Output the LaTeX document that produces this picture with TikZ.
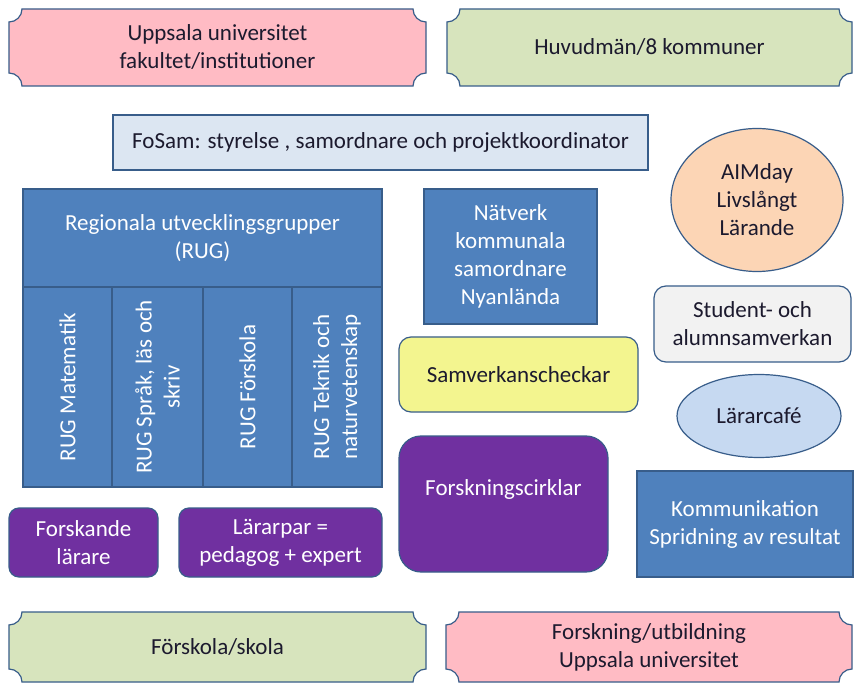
\documentclass[tikz,border=0pt]{standalone}
\usepackage{fontspec}
\setmainfont{Carlito}
\usetikzlibrary{shapes.geometric}
\definecolor{bordc}{HTML}{385D8A}
\definecolor{pinkf}{RGB}{255,187,196}
\definecolor{greenf}{HTML}{D7E4BD}
\definecolor{fosamf}{HTML}{DCE6F2}
\definecolor{bluef}{HTML}{4F81BD}
\definecolor{peachf}{HTML}{FCD5B5}
\definecolor{greyf}{HTML}{F2F2F2}
\definecolor{yellowf}{RGB}{243,245,143}
\definecolor{purplef}{HTML}{7030A0}
\definecolor{lightbluef}{HTML}{C6D9F1}
\definecolor{txtdark}{HTML}{1C1A2E}
% plaque: #1 fill, #2 x0, #3 y0, #4 x1, #5 y1
\newcommand{\myplaque}[5]{%
  \filldraw[fill=#1, draw=bordc, line width=1.2pt]
    ({#2+13},#3) -- ({#4-13},#3)
    .. controls ({#4-13},{#3+7.2}) and ({#4-7.2},{#3+13}) .. (#4,{#3+13})
    -- (#4,{#5-13})
    .. controls ({#4-7.2},{#5-13}) and ({#4-13},{#5-7.2}) .. ({#4-13},#5)
    -- ({#2+13},#5)
    .. controls ({#2+13},{#5-7.2}) and ({#2+7.2},{#5-13}) .. (#2,{#5-13})
    -- (#2,{#3+13})
    .. controls ({#2+7.2},{#3+13}) and ({#2+13},{#3+7.2}) .. ({#2+13},#3)
    -- cycle;}
\begin{document}
\begin{tikzpicture}[x=1pt,y=-1pt,
  every node/.style={font=\fontsize{23}{28}\selectfont, align=center, inner sep=0pt},
  boxbase/.style={draw=bordc, line width=1.2pt},
  bluebox/.style={boxbase, fill=bluef, text=white},
  purplebox/.style={boxbase, fill=purplef, text=white, rounded corners=10pt},
  darktext/.style={text=txtdark}]
\useasboundingbox (0,0) rectangle (854,684);
\fill[white] (0,0) rectangle (854,684);

% plaques
\myplaque{pinkf}{9}{9}{426}{86}
\node[darktext] (uu) at (217.5,47.5) {Uppsala universitet\\fakultet/institutioner};
\myplaque{greenf}{447}{9}{852}{86}
\node[darktext] (huv) at (649.5,47.5) {Huvudmän/8 kommuner};
\myplaque{greenf}{9}{612}{426}{682}
\node[darktext] (fsk) at (217.5,647) {Förskola/skola};
\myplaque{pinkf}{446}{612}{852}{682}
\node[darktext] (fou) at (649,647) {Forskning/utbildning\\Uppsala universitet};

% FoSam
\node[boxbase, fill=fosamf, darktext, minimum width=535pt, minimum height=55pt] (fosam) at (380.5,142.5)
  {FoSam: styrelse , samordnare och projektkoordinator};

% RUG
\node[bluebox, minimum width=359pt, minimum height=98pt] (rughead) at (202.5,238)
  {Regionala utvecklingsgrupper\\(RUG)};
\node[bluebox, rotate=90, minimum width=200pt, minimum height=89pt] (rug1) at (67.5,387) {RUG Matematik};
\node[bluebox, rotate=90, minimum width=200pt, minimum height=91pt] (rug2) at (157.5,387) {RUG Språk, läs och\\skriv};
\node[bluebox, rotate=90, minimum width=200pt, minimum height=89pt] (rug3) at (247.5,387) {RUG Förskola};
\node[bluebox, rotate=90, minimum width=200pt, minimum height=90pt] (rug4) at (337,387) {RUG Teknik och\\naturvetenskap};

% Nätverk
\node[bluebox, minimum width=173pt, minimum height=135pt] (natv) at (510.5,256.5)
  {Nätverk\\kommunala\\samordnare\\Nyanlända};

% AIMday
\node[boxbase, ellipse, fill=peachf, darktext, minimum width=172pt, minimum height=143pt] (aim) at (757,200)
  {AIMday\\Livslångt\\Lärande};

% Student
\node[boxbase, fill=greyf, darktext, rounded corners=12pt, minimum width=197pt, minimum height=76pt] (stud) at (752.5,324)
  {Student- och\\alumnsamverkan};

% Samverkanscheckar
\node[boxbase, fill=yellowf, darktext, rounded corners=12pt, minimum width=239pt, minimum height=75pt] (samv) at (518.5,374.5)
  {Samverkanscheckar};

% Lärarcafé
\node[boxbase, ellipse, fill=lightbluef, darktext, minimum width=164pt, minimum height=83pt] (cafe) at (759,416)
  {Lärarcafé};

% Forskningscirklar
\node[purplebox, rounded corners=22pt, minimum width=209pt, minimum height=136pt] (fc) at (503.5,504) {};
\node[text=white] (fctext) at (503.5,489) {Forskningscirklar};

% Kommunikation
\node[bluebox, minimum width=216pt, minimum height=106pt] (komm) at (745,524)
  {Kommunikation\\Spridning av resultat};

% Forskande / Lärarpar
\node[purplebox, minimum width=149pt, minimum height=69pt] (forsk) at (83.5,542.5) {Forskande\\lärare};
\node[purplebox, minimum width=203pt, minimum height=69pt] (lpar) at (280.5,542.5) {Lärarpar =\\pedagog + expert};
\end{tikzpicture}
\end{document}
